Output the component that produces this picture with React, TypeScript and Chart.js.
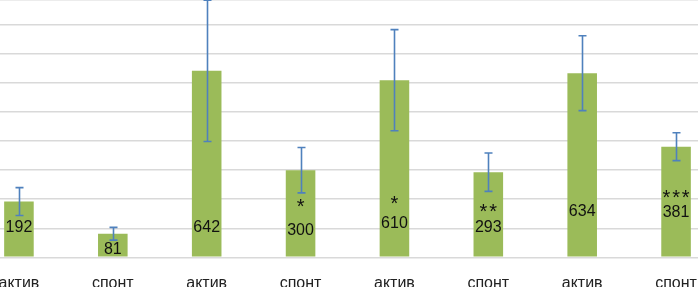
import React, { useEffect, useRef } from "react";
import { Chart, registerables } from "chart.js";

Chart.register(...registerables);

// ---- data ----
const categories = ["актив", "спонт", "актив", "спонт", "актив", "спонт", "актив", "спонт"];
const values = [192, 81, 642, 300, 610, 293, 634, 381];
const errors = [48, 22, 243, 78, 174, 66, 129, 48];
const stars = ["", "", "", "*", "*", "**", "", "***"];
const yMax = 886;
const yStep = 100;

// ---- label layout (value units where labels sit) ----
const valueLabelAt = [108, 32, 108, 96, 119, 108, 163, 159];
const starLabelAt = [0, 0, 0, 191, 201, 174, 0, 222];

const FONT = "'Liberation Sans', Arial, sans-serif";
const CANVAS_H = 300;
const PLOT_BOTTOM = 257.3;

const overlayPlugin = {
  id: "overlay",
  afterDatasetsDraw(chart: any) {
    const ctx = chart.ctx;
    const meta = chart.getDatasetMeta(0);
    const y = chart.scales.y;
    ctx.save();
    // error bars
    ctx.strokeStyle = "#4f81bd";
    ctx.lineWidth = 1.6;
    meta.data.forEach((bar: any, i: number) => {
      const x = Math.round(bar.x) + 0.5;
      const top = y.getPixelForValue(values[i] + errors[i]);
      const bot = y.getPixelForValue(values[i] - errors[i]);
      ctx.beginPath();
      ctx.moveTo(x, top);
      ctx.lineTo(x, bot);
      ctx.moveTo(x - 4, top);
      ctx.lineTo(x + 4, top);
      ctx.moveTo(x - 4, bot);
      ctx.lineTo(x + 4, bot);
      ctx.stroke();
    });
    // value labels
    ctx.fillStyle = "#111";
    ctx.textAlign = "center";
    ctx.textBaseline = "alphabetic";
    const fs = 16;
    ctx.font = `${fs}px ${FONT}`;
    meta.data.forEach((bar: any, i: number) => {
      const cy = y.getPixelForValue(valueLabelAt[i]);
      ctx.fillText(String(values[i]), bar.x, cy + fs * 0.358);
    });
    // significance stars
    const sfs = 20;
    ctx.font = `${sfs}px ${FONT}`;
    meta.data.forEach((bar: any, i: number) => {
      const s = stars[i];
      if (!s) return;
      const cy = y.getPixelForValue(starLabelAt[i]);
      const n = s.length;
      const gap = 9.7;
      for (let k = 0; k < n; k++) {
        const x = bar.x + (k - (n - 1) / 2) * gap;
        ctx.fillText("*", x, cy + sfs * 0.56);
      }
    });
    ctx.restore();
  },
};

export default function App() {
  const ref = useRef<HTMLCanvasElement | null>(null);
  useEffect(() => {
    if (!ref.current) return;
    const chart = new Chart(ref.current, {
      type: "bar",
      data: {
        labels: categories,
        datasets: [
          {
            data: values,
            backgroundColor: "#9bbb59",
            borderWidth: 0,
            categoryPercentage: 1,
            barPercentage: 0.315,
          },
        ],
      },
      options: {
        animation: false,
        responsive: true,
        maintainAspectRatio: false,
        layout: { padding: 0 },
        plugins: { legend: { display: false }, tooltip: { enabled: false } },
        scales: {
          x: {
            grid: { display: false },
            border: { display: false },
            ticks: {
              color: "#222",
              font: { family: FONT, size: 16 },
              padding: 8.5,
              maxRotation: 0,
              autoSkip: false,
            },
            afterFit: (scale: any) => {
              scale.height = CANVAS_H - PLOT_BOTTOM;
            },
          },
          y: {
            min: 0,
            max: yMax,
            ticks: { display: false, stepSize: yStep },
            grid: { color: "#d9d9d9", lineWidth: 1.5, drawTicks: false },
            border: { display: false },
          },
        },
      },
      plugins: [overlayPlugin],
    });
    return () => chart.destroy();
  }, []);
  return (
    <div style={{ position: "fixed", left: 0, top: 0, width: 698, height: 287, overflow: "hidden", background: "#fff" }}>
      <div style={{ position: "absolute", left: -28, top: 0, width: 751, height: CANVAS_H }}>
        <canvas ref={ref} />
      </div>
    </div>
  );
}
